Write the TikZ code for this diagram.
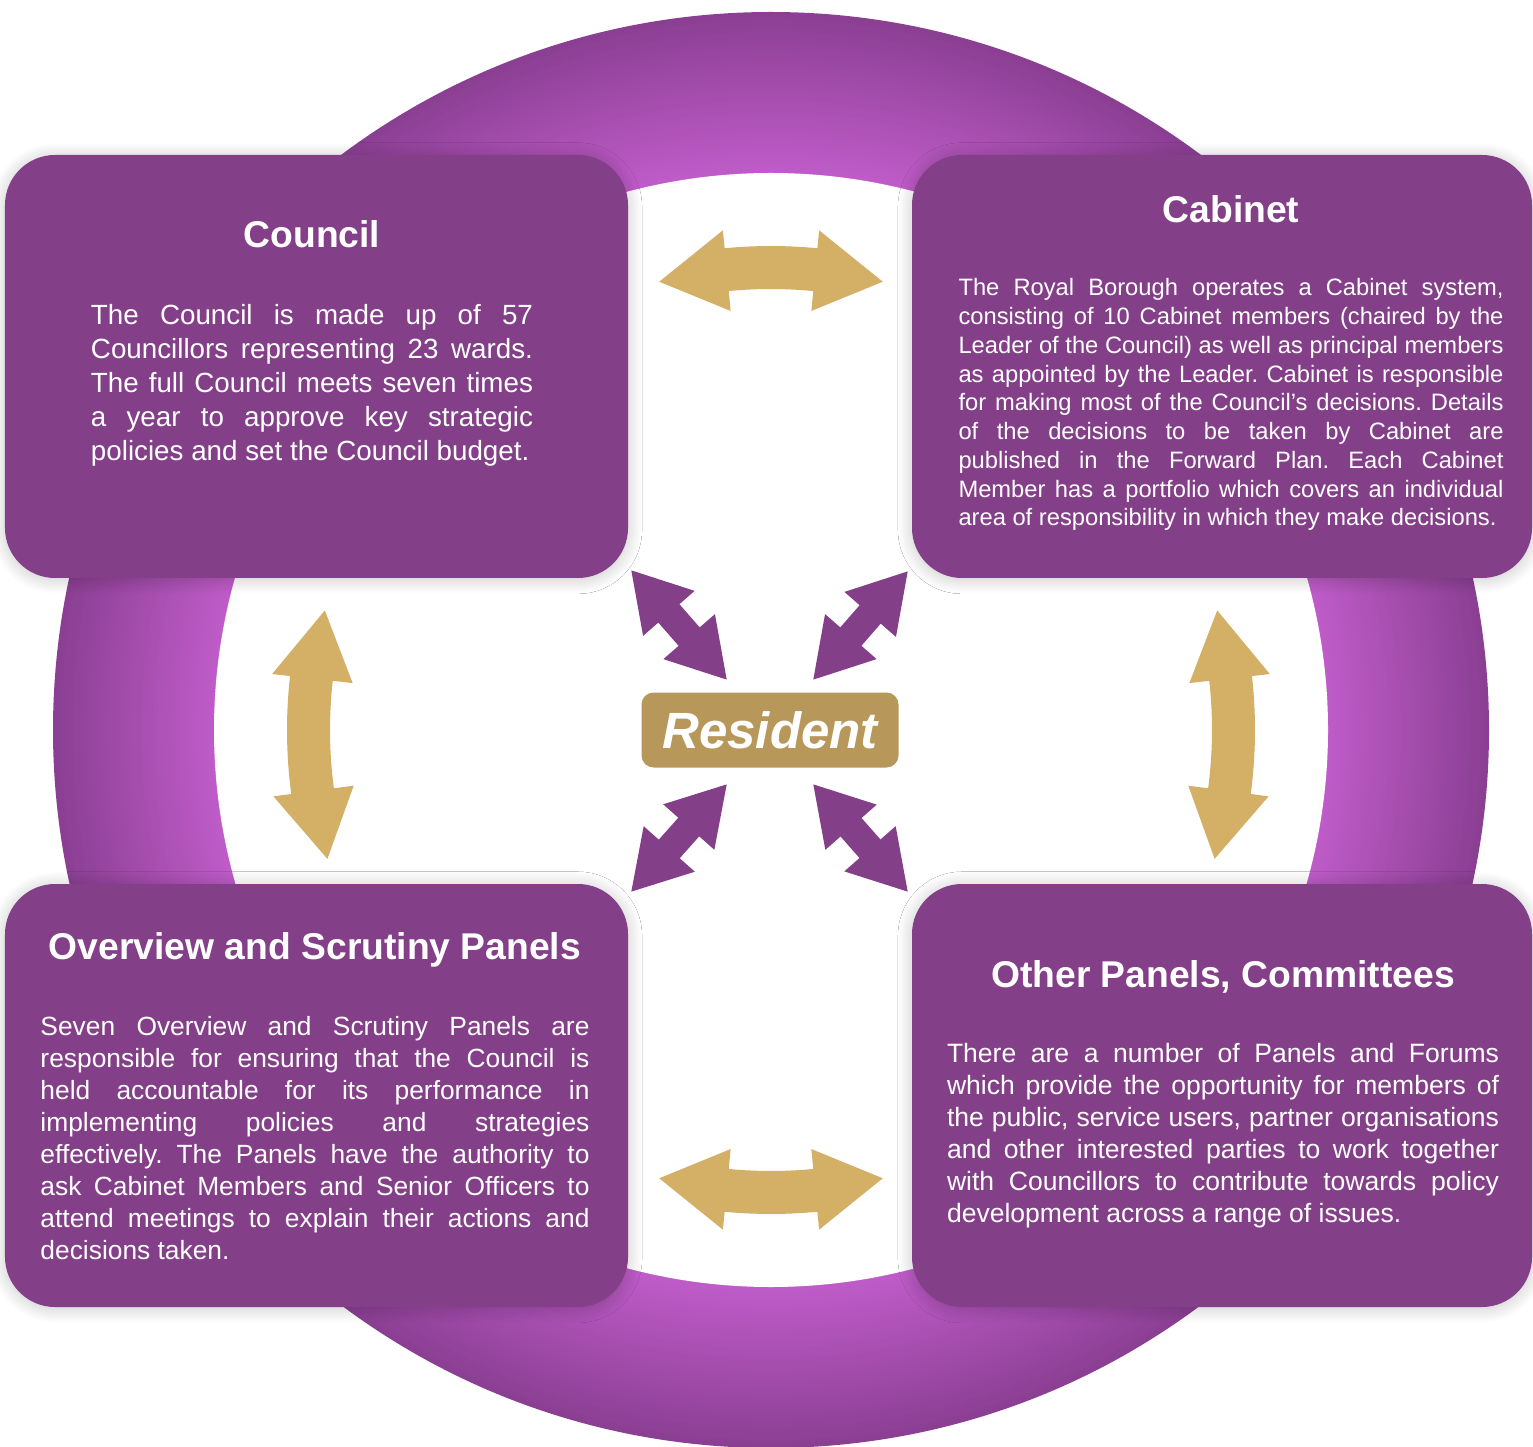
\documentclass[tikz,border=0pt]{standalone}
\usepackage{fontspec}
\setmainfont{Liberation Sans}
\usetikzlibrary{arrows.meta, positioning, shadows.blur, calc}
\tolerance=10000
\hyphenpenalty=10000
\frenchspacing

\definecolor{ringlight}{RGB}{191,92,201}
\definecolor{ringdark}{RGB}{139,63,147}
\definecolor{panelpurple}{RGB}{132,63,137}
\definecolor{linkgold}{RGB}{211,176,102}
\definecolor{resgold}{RGB}{183,152,90}

\tikzset{
  panel/.style={rectangle, fill=panelpurple, rounded corners=0.5cm, minimum width=6.23cm, minimum height=4.23cm, blur shadow={shadow xshift=0pt, shadow yshift=-0.5pt, shadow blur radius=4pt, shadow blur steps=12, shadow opacity=22}},
  paneltitle/.style={text=white, font=\fontsize{10.6}{12}\selectfont\bfseries, inner sep=0pt},
  paneltext/.style={text=white, align=justify, inner sep=0pt, anchor=base},
  resbox/.style={rectangle, fill=resgold, rounded corners=0.12cm, minimum width=2.57cm, minimum height=0.75cm, text=white, font=\fontsize{14.5}{16}\selectfont\bfseries\itshape},
  resarr/.style={{Triangle[length=5.8mm, width=6.4mm]}-{Triangle[length=5.8mm, width=6.4mm]}, line width=2.8mm, draw=panelpurple},
  link tip/.store in=\linktip, link tip=14,
  link base/.store in=\linkbase, link base=5.5,
  linkarrow/.pic={
    \fill[linkgold] (\linktip:4.62) -- (\linkbase:5.02) -- (\linkbase:4.84) arc[start angle=\linkbase, end angle=-\linkbase, radius=4.84] -- (-\linkbase:5.02) -- (-\linktip:4.62) -- (-\linkbase:4.21) -- (-\linkbase:4.41) arc[start angle=-\linkbase, end angle=\linkbase, radius=4.41] -- (\linkbase:4.21) -- cycle;
  },
}

\begin{document}
\begin{tikzpicture}
  \useasboundingbox (0,0) rectangle (15.33,-14.47);

  % Ring behind the panels, dark outside to light inside
  \coordinate (hub) at (7.71,-7.30);
  \foreach \i in {0,...,40} {
    \pgfmathsetmacro{\ringpct}{\i*2.5}
    \fill[ringlight!\ringpct!ringdark] (hub) circle ({7.18-\i*0.04});
  }
  \fill[white] (hub) circle (5.57);

  % Links between panels
  \pic[rotate=90] at (hub) {linkarrow};
  \pic[rotate=270] at (hub) {linkarrow};
  \pic[rotate=180.6, link tip=15.6, link base=7] at (hub) {linkarrow};
  \pic[rotate=-0.6, link tip=15.6, link base=7] at (hub) {linkarrow};

  % Panels
  \node[panel] (council) at (3.165,-3.665) {};
  \node[panel, minimum width=6.20cm] (cabinet) at (12.22,-3.665) {};
  \node[panel] (scrutiny) at (3.165,-10.955) {};
  \node[panel, minimum width=6.20cm] (other) at (12.22,-10.955) {};

  % Council
  \node[paneltitle, anchor=base] (councilhead) at ([xshift=-0.045cm, yshift=-0.93cm]council.north) {Council};
  \node[paneltext, text width=4.42cm, font=\fontsize{7.9}{9.67}\selectfont] (councilnote) at ([yshift=-0.77cm]councilhead.base) {The Council is made up of 57\linebreak
    Councillors representing 23 wards.\linebreak
    The full Council meets seven times\linebreak
    a year to approve key strategic\linebreak
    policies and set the Council budget.};

  % Cabinet
  \node[paneltitle, anchor=base] (cabinethead) at ([xshift=0.09cm, yshift=-0.68cm]cabinet.north) {Cabinet};
  \node[paneltext, text width=5.45cm, font=\fontsize{6.75}{8.18}\selectfont] (cabinetnote) at ([yshift=-0.735cm]cabinethead.base) {The Royal Borough operates a Cabinet system,\linebreak
    consisting of 10 Cabinet members (chaired by the\linebreak
    Leader of the Council) as well as principal members\linebreak
    as appointed by the Leader. Cabinet is responsible\linebreak
    for making most of the Council’s decisions. Details\linebreak
    of the decisions to be taken by Cabinet are\linebreak
    published in the Forward Plan. Each Cabinet\linebreak
    Member has a portfolio which covers an individual\linebreak
    area of responsibility in which they make decisions.};

  % Overview and Scrutiny
  \node[paneltitle, anchor=base] (scrutinyhead) at ([xshift=-0.015cm, yshift=-0.76cm]scrutiny.north) {Overview and Scrutiny Panels};
  \node[paneltext, text width=5.49cm, font=\fontsize{7.5}{9.1}\selectfont] (scrutinynote) at ([yshift=-0.765cm]scrutinyhead.base) {Seven Overview and Scrutiny Panels are\linebreak
    responsible for ensuring that the Council is\linebreak
    held accountable for its performance in\linebreak
    implementing policies and strategies\linebreak
    effectively. The Panels have the authority to\linebreak
    ask Cabinet Members and Senior Officers to\linebreak
    attend meetings to explain their actions and\linebreak
    decisions taken.};

  % Other panels
  \node[paneltitle, anchor=base] (otherhead) at ([xshift=0.01cm, yshift=-1.04cm]other.north) {Other Panels, Committees};
  \node[paneltext, text width=5.52cm, font=\fontsize{7.55}{9.1}\selectfont] (othernote) at ([yshift=-0.755cm]otherhead.base) {There are a number of Panels and Forums\linebreak
    which provide the opportunity for members of\linebreak
    the public, service users, partner organisations\linebreak
    and other interested parties to work together\linebreak
    with Councillors to contribute towards policy\linebreak
    development across a range of issues.};

  % Resident in the middle
  \node[resbox] (res) at (7.70,-7.30) {Resident};
  \draw[resarr] ([shift={(0.02,0.09)}]council.south east) -- ([shift={(0.865,0.115)}]res.north west);
  \draw[resarr] ([shift={(-0.03,0.08)}]cabinet.south west) -- ([shift={(-0.865,0.115)}]res.north east);
  \draw[resarr] ([shift={(0.02,-0.09)}]scrutiny.north east) -- ([shift={(0.865,-0.155)}]res.south west);
  \draw[resarr] ([shift={(-0.03,-0.09)}]other.north west) -- ([shift={(-0.865,-0.155)}]res.south east);
\end{tikzpicture}
\end{document}
